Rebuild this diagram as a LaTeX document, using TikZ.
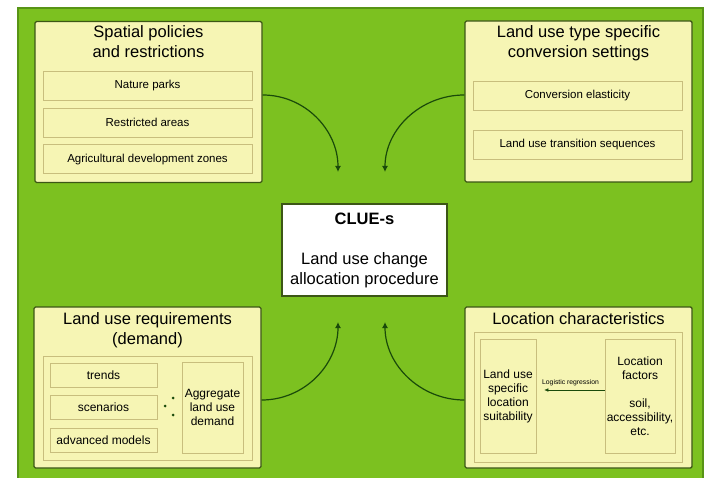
\documentclass[tikz,border=0pt]{standalone}
\usepackage{fontspec}
\setmainfont{Liberation Sans}
\usetikzlibrary{positioning,arrows.meta}
\definecolor{leaf}{RGB}{124,193,32}
\definecolor{leafedge}{RGB}{88,148,22}
\definecolor{boxfill}{RGB}{246,245,180}
\definecolor{boxline}{RGB}{60,86,22}
\definecolor{itemline}{RGB}{200,190,125}
\definecolor{flowline}{RGB}{26,74,10}

\begin{document}
\begin{tikzpicture}[x=1pt, y=1pt,
    panel/.style = {draw=boxline, line width=1.4pt, fill=boxfill, rounded corners=1.5pt,
                    minimum width=227pt, minimum height=161pt},
    heading/.style = {font=\fontsize{16.5}{20}\selectfont, align=center, inner sep=2pt},
    item/.style = {draw=itemline, line width=0.6pt, minimum width=209pt, minimum height=29pt,
                   inner sep=0pt, font=\fontsize{11.5}{14}\selectfont},
    frame/.style = {draw=itemline, line width=0.6pt},
    minor/.style = {draw=itemline, line width=0.6pt, inner sep=1pt, align=center,
                    font=\fontsize{12}{14}\selectfont},
    core/.style = {draw=boxline, line width=1.2pt, fill=white, minimum width=165pt,
                   minimum height=92pt, align=center, font=\fontsize{16.5}{20}\selectfont},
    flow/.style = {draw=flowline, line width=1.2pt, -{Latex[length=6pt,width=6pt]}}
]
\useasboundingbox (0,0) rectangle (706,-478);
\draw[leafedge, fill=leaf, line width=2pt] (18,-8) rectangle (703,-480);

% top left
\node[panel] (policy) at (148.5,-102) {};
\node[heading, below=3pt of policy.north] {Spatial policies\\and restrictions};
\node[item] (parks) at (147.5,-86) {Nature parks};
\node[item, below=7pt of parks] (restrict) {Restricted areas};
\node[item, below=7pt of restrict] (agri) {Agricultural development zones};

% top right
\node[panel] (convset) at (578.5,-101.5) {};
\node[heading, below=3pt of convset.north] {Land use type specific\\conversion settings};
\node[item] (elastic) at (577.5,-96) {Conversion elasticity};
\node[item, below=19pt of elastic] (sequence) {Land use transition sequences};

% centre
\node[core] (clue) at (364.5,-250) {\textbf{CLUE-s}\\[20pt]Land use change\\allocation procedure};

% bottom left
\node[panel] (demand) at (147.5,-387.5) {};
\node[heading, below=4pt of demand.north] {Land use requirements\\(demand)};
\node[frame, minimum width=209pt, minimum height=104pt] (demandin) at (147.5,-408) {};
\node[minor, minimum width=107pt, minimum height=24pt] (trends) at (103.5,-375) {trends};
\node[minor, minimum width=107pt, minimum height=24pt] (scen) at (103.5,-407) {scenarios};
\node[minor, minimum width=107pt, minimum height=24pt] (models) at (103.5,-440) {advanced models};
\node[minor, minimum width=61pt, minimum height=91pt] (aggr) at (212.5,-407.5) {Aggregate\\land use\\demand};
\foreach \x/\y in {173/398, 165/406, 173/415}
    \fill[flowline] (\x,-\y) circle (1.5pt);

% bottom right
\node[panel] (place) at (578.5,-387.5) {};
\node[heading, below=4pt of place.north] {Location characteristics};
\node[frame, minimum width=208pt, minimum height=130pt] (placein) at (578,-397) {};
\node[minor, minimum width=56pt, minimum height=114pt] (suit) at (508,-396) {Land use\\specific\\location\\suitability};
\node[minor, minimum width=70pt, minimum height=114pt] (factors) at (640,-396) {Location\\factors\\[14pt]soil,\\accessibility,\\etc.};
\draw[draw=flowline, line width=0.5pt, -{Latex[length=4pt,width=3.5pt]}, shorten >=8pt]
    ([yshift=6pt]factors.west) -- node[above=0.5pt, font=\fontsize{6.8}{8}\selectfont] {Logistic regression}
    ([yshift=6pt]suit.east);

% flows into the allocation procedure
\coordinate (inTL) at (338,-172);
\coordinate (inTR) at (385,-172);
\coordinate (inBL) at (338,-322);
\coordinate (inBR) at (385,-322);
\draw[flow] ([yshift=7pt]policy.east) to[out=0, in=90] (inTL);
\draw[flow] ([yshift=6.5pt]convset.west) to[out=180, in=90] (inTR);
\draw[flow] ([yshift=-12.5pt]demand.east) to[out=0, in=-90] (inBL);
\draw[flow] ([yshift=-12.5pt]place.west) to[out=180, in=-90] (inBR);
\end{tikzpicture}
\end{document}
